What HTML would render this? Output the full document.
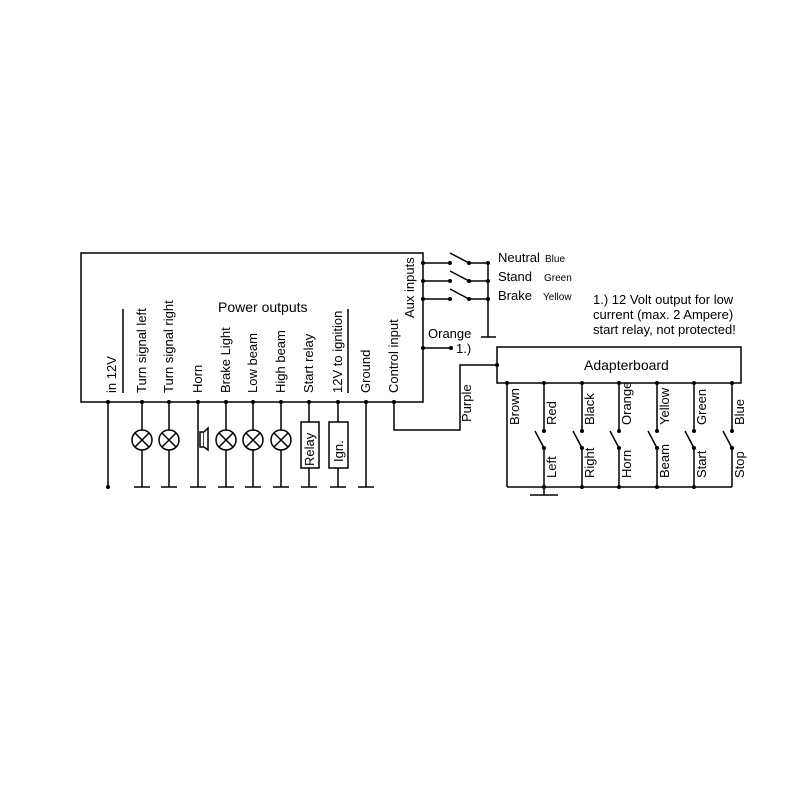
<!DOCTYPE html>
<html><head><meta charset="utf-8"><style>body{margin:0;background:#fff}svg{display:block}</style></head><body>
<svg width="800" height="800" viewBox="0 0 800 800" xmlns="http://www.w3.org/2000/svg" font-family="Liberation Sans, Arial, sans-serif" fill="none" stroke="#000" stroke-width="1.5">
<rect x="81" y="253" width="342" height="149"/>
<line x1="123" y1="309" x2="123" y2="393"/>
<line x1="348" y1="309" x2="348" y2="393"/>
<!-- wires -->
<g>
<line x1="108" y1="402" x2="108" y2="487"/>
<line x1="142" y1="402" x2="142" y2="487"/><line x1="134" y1="487" x2="150" y2="487"/>
<line x1="169" y1="402" x2="169" y2="487"/><line x1="161" y1="487" x2="177" y2="487"/>
<line x1="198" y1="402" x2="198" y2="487"/><line x1="190" y1="487" x2="206" y2="487"/>
<line x1="226" y1="402" x2="226" y2="487"/><line x1="218" y1="487" x2="234" y2="487"/>
<line x1="253" y1="402" x2="253" y2="487"/><line x1="245" y1="487" x2="261" y2="487"/>
<line x1="281" y1="402" x2="281" y2="487"/><line x1="273" y1="487" x2="289" y2="487"/>
<line x1="309" y1="402" x2="309" y2="487"/><line x1="301" y1="487" x2="317" y2="487"/>
<line x1="338" y1="402" x2="338" y2="487"/><line x1="330" y1="487" x2="346" y2="487"/>
<line x1="366" y1="402" x2="366" y2="487"/><line x1="358" y1="487" x2="374" y2="487"/>
</g>
<g fill="#000" stroke="none">
<circle cx="108" cy="402" r="2"/><circle cx="142" cy="402" r="2"/><circle cx="169" cy="402" r="2"/><circle cx="198" cy="402" r="2"/><circle cx="226" cy="402" r="2"/><circle cx="253" cy="402" r="2"/><circle cx="281" cy="402" r="2"/><circle cx="309" cy="402" r="2"/><circle cx="338" cy="402" r="2"/><circle cx="366" cy="402" r="2"/><circle cx="394" cy="402" r="2"/><circle cx="108" cy="487" r="2"/>
</g>
<!-- lamps -->
<g fill="#fff">
<circle cx="142" cy="440" r="10"/><circle cx="169" cy="440" r="10"/><circle cx="226" cy="440" r="10"/><circle cx="253" cy="440" r="10"/><circle cx="281" cy="440" r="10"/>
</g>
<g>
<path d="M135 433l14 14M149 433l-14 14M162 433l14 14M176 433l-14 14M219 433l14 14M233 433l-14 14M246 433l14 14M260 433l-14 14M274 433l14 14M288 433l-14 14"/>
</g>
<!-- horn -->
<rect x="200" y="432" width="4" height="15" fill="#fff"/>
<path d="M204 432l4-4v22l-4-3" fill="#fff"/>
<!-- relay boxes -->
<rect x="301" y="422" width="18" height="46" fill="#fff"/>
<rect x="329" y="422" width="19" height="46" fill="#fff"/>
<!-- control input -->
<polyline points="394,402 394,430 460,430 460,365 497,365"/>
<circle cx="497" cy="365" r="2" fill="#000" stroke="none"/>
<!-- aux switches -->
<g>
<line x1="423" y1="263" x2="450" y2="263"/><line x1="450" y1="253" x2="469" y2="263"/><line x1="469" y1="263" x2="488" y2="263"/>
<line x1="423" y1="281" x2="450" y2="281"/><line x1="450" y1="271" x2="469" y2="281"/><line x1="469" y1="281" x2="488" y2="281"/>
<line x1="423" y1="299" x2="450" y2="299"/><line x1="450" y1="289" x2="469" y2="299"/><line x1="469" y1="299" x2="488" y2="299"/>
<line x1="488" y1="263" x2="488" y2="337"/><line x1="481" y1="337" x2="496" y2="337"/>
<line x1="423" y1="348" x2="451" y2="348"/>
</g>
<g fill="#000" stroke="none">
<circle cx="423" cy="263" r="2"/><circle cx="450" cy="263" r="2"/><circle cx="469" cy="263" r="2"/><circle cx="488" cy="263" r="2"/>
<circle cx="423" cy="281" r="2"/><circle cx="450" cy="281" r="2"/><circle cx="469" cy="281" r="2"/><circle cx="488" cy="281" r="2"/>
<circle cx="423" cy="299" r="2"/><circle cx="450" cy="299" r="2"/><circle cx="469" cy="299" r="2"/><circle cx="488" cy="299" r="2"/>
<circle cx="423" cy="348" r="2"/><circle cx="451" cy="348" r="2"/>
</g>
<!-- adapterboard -->
<rect x="497" y="347" width="244" height="36"/>
<g>
<line x1="507" y1="383" x2="507" y2="487"/>
<line x1="507" y1="487" x2="732" y2="487"/>
<line x1="544" y1="487" x2="544" y2="495"/><line x1="530" y1="495" x2="558" y2="495"/>
<line x1="544" y1="383" x2="544" y2="431"/><line x1="535" y1="431" x2="544" y2="448"/><line x1="544" y1="448" x2="544" y2="487"/>
<line x1="582" y1="383" x2="582" y2="431"/><line x1="573" y1="431" x2="582" y2="448"/><line x1="582" y1="448" x2="582" y2="487"/>
<line x1="619" y1="383" x2="619" y2="431"/><line x1="610" y1="431" x2="619" y2="448"/><line x1="619" y1="448" x2="619" y2="487"/>
<line x1="657" y1="383" x2="657" y2="431"/><line x1="648" y1="431" x2="657" y2="448"/><line x1="657" y1="448" x2="657" y2="487"/>
<line x1="694" y1="383" x2="694" y2="431"/><line x1="685" y1="431" x2="694" y2="448"/><line x1="694" y1="448" x2="694" y2="487"/>
<line x1="732" y1="383" x2="732" y2="431"/><line x1="723" y1="431" x2="732" y2="448"/><line x1="732" y1="448" x2="732" y2="487"/>
</g>
<g fill="#000" stroke="none">
<circle cx="507" cy="383" r="2"/><circle cx="544" cy="383" r="2"/><circle cx="582" cy="383" r="2"/><circle cx="619" cy="383" r="2"/><circle cx="657" cy="383" r="2"/><circle cx="694" cy="383" r="2"/><circle cx="732" cy="383" r="2"/>
<circle cx="544" cy="431" r="2"/><circle cx="582" cy="431" r="2"/><circle cx="619" cy="431" r="2"/><circle cx="657" cy="431" r="2"/><circle cx="694" cy="431" r="2"/><circle cx="732" cy="431" r="2"/>
<circle cx="544" cy="448" r="2"/><circle cx="582" cy="448" r="2"/><circle cx="619" cy="448" r="2"/><circle cx="657" cy="448" r="2"/><circle cx="694" cy="448" r="2"/><circle cx="732" cy="448" r="2"/>
<circle cx="544" cy="487" r="2"/><circle cx="582" cy="487" r="2"/><circle cx="619" cy="487" r="2"/><circle cx="657" cy="487" r="2"/><circle cx="694" cy="487" r="2"/>
</g>
<!-- text -->
<g fill="#000" stroke="none" font-size="13">
<text x="218" y="312" font-size="14">Power outputs</text>
<text transform="translate(116,393) rotate(-90)">in 12V</text>
<text transform="translate(146,393) rotate(-90)">Turn signal left</text>
<text transform="translate(173,393) rotate(-90)">Turn signal right</text>
<text transform="translate(202,393) rotate(-90)">Horn</text>
<text transform="translate(230,393) rotate(-90)">Brake Light</text>
<text transform="translate(257,393) rotate(-90)">Low beam</text>
<text transform="translate(285,393) rotate(-90)">High beam</text>
<text transform="translate(313,393) rotate(-90)">Start relay</text>
<text transform="translate(342,393) rotate(-90)">12V to ignition</text>
<text transform="translate(370,393) rotate(-90)">Ground</text>
<text transform="translate(398,393) rotate(-90)">Control input</text>
<text transform="translate(414,318) rotate(-90)">Aux inputs</text>
<text transform="translate(314,466) rotate(-90)">Relay</text>
<text transform="translate(343,462) rotate(-90)">Ign.</text>
<text transform="translate(471,422) rotate(-90)">Purple</text>
<text x="498" y="262" font-size="13">Neutral</text><text x="545" y="262" font-size="10">Blue</text>
<text x="498" y="281">Stand</text><text x="544" y="281" font-size="10">Green</text>
<text x="498" y="300">Brake</text><text x="543" y="300" font-size="10">Yellow</text>
<text x="428" y="338">Orange</text>
<text x="456" y="353">1.)</text>
<text x="593" y="304">1.) 12 Volt output for low</text>
<text x="593" y="319">current (max. 2 Ampere)</text>
<text x="593" y="334">start relay, not protected!</text>
<text x="584" y="370" font-size="14">Adapterboard</text>
<text transform="translate(519,425) rotate(-90)">Brown</text>
<text transform="translate(556,425) rotate(-90)">Red</text>
<text transform="translate(594,425) rotate(-90)">Black</text>
<text transform="translate(631,425) rotate(-90)">Orange</text>
<text transform="translate(669,425) rotate(-90)">Yellow</text>
<text transform="translate(706,425) rotate(-90)">Green</text>
<text transform="translate(744,425) rotate(-90)">Blue</text>
<text transform="translate(556,478) rotate(-90)">Left</text>
<text transform="translate(594,478) rotate(-90)">Right</text>
<text transform="translate(631,478) rotate(-90)">Horn</text>
<text transform="translate(669,478) rotate(-90)">Beam</text>
<text transform="translate(706,478) rotate(-90)">Start</text>
<text transform="translate(744,478) rotate(-90)">Stop</text>
</g>
</svg>
</body></html>
